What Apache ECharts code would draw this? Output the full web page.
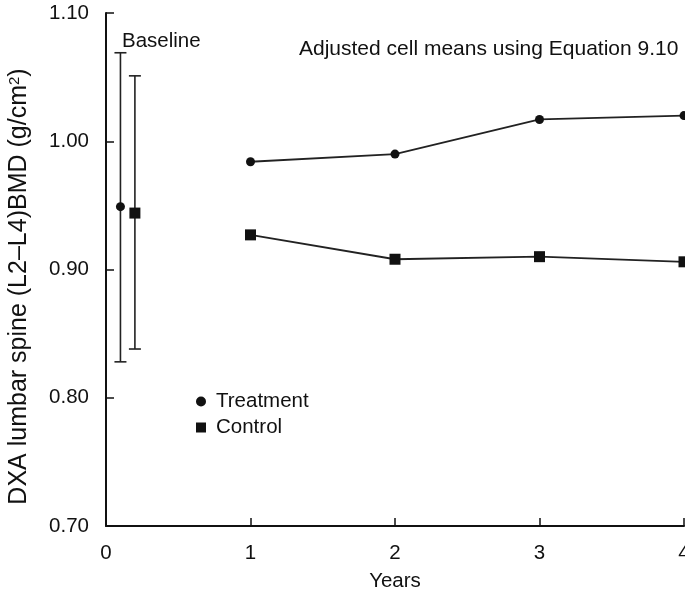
<!DOCTYPE html>
<html>
<head>
<meta charset="utf-8">
<script src="https://cdn.jsdelivr.net/npm/echarts@6/dist/echarts.min.js"></script>
<style>
  html, body { margin: 0; padding: 0; background: #fff; }
  #chart { width: 685px; height: 594px; }
</style>
</head>
<body>
<div id="chart"></div>
<script>
// Follow-up years and adjusted cell means
const years = [1, 2, 3, 4];
const treatmentMeans = [0.984, 0.990, 1.017, 1.020];
const controlMeans = [0.927, 0.908, 0.910, 0.906];

// Baseline means with their ranges (treatment, control)
const baselineX = [0.1, 0.2];
const baselineMean = [0.949, 0.944];
const baselineLow = [0.828, 0.838];
const baselineHigh = [1.069, 1.051];

const xTicks = [0, 1, 2, 3, 4];
const yTicks = [0.70, 0.80, 0.90, 1.00, 1.10];

const FONT = 'Liberation Sans, Arial, Helvetica, sans-serif';
const INK = '#111';
const FS = 20.5;

const chart = echarts.init(document.getElementById('chart'), null, { renderer: 'canvas' });

function pairs(xs, ys) { return xs.map((x, i) => [x, ys[i]]); }

const errorData = baselineX.map((x, i) => [x, baselineLow[i], baselineHigh[i]]);

const option = {
  animation: false,
  backgroundColor: '#fff',
  grid: { left: 106, right: 1, top: 13, bottom: 68, containLabel: false, outerBoundsMode: 'none' },
  xAxis: {
    type: 'value',
    min: xTicks[0], max: xTicks[xTicks.length - 1], interval: 1,
    name: 'Years', nameLocation: 'middle', nameGap: 45,
    nameTextStyle: { fontFamily: FONT, fontSize: FS, color: INK },
    axisLine: { show: true, lineStyle: { color: INK, width: 2 } },
    axisTick: { show: true, inside: true, length: 8, lineStyle: { color: INK, width: 1.5 } },
    axisLabel: { fontFamily: FONT, fontSize: FS, color: INK, margin: 17, showMaxLabel: true, hideOverlap: false },
    splitLine: { show: false }
  },
  yAxis: {
    type: 'value',
    min: yTicks[0], max: yTicks[yTicks.length - 1], interval: 0.1,
    name: '{t|DXA lumbar spine (L2–L4)BMD (g/cm}{s|2}{t|)}',
    nameLocation: 'middle', nameGap: 74, nameRotate: 90,
    nameTextStyle: {
      fontFamily: FONT, fontSize: 25, color: INK,
      padding: [0, 34, 0, 0],
      rich: {
        t: { fontFamily: FONT, fontSize: 25, color: INK },
        s: { fontFamily: FONT, fontSize: 15, color: INK, padding: [0, 0, 10, 0] }
      }
    },
    axisLine: { show: true, lineStyle: { color: INK, width: 2 } },
    axisTick: { show: true, inside: true, length: 8, lineStyle: { color: INK, width: 1.5 } },
    axisLabel: {
      fontFamily: FONT, fontSize: FS, color: INK, margin: 17,
      formatter: v => v.toFixed(2)
    },
    splitLine: { show: false }
  },
  legend: {
    orient: 'vertical', left: 196, top: 391, itemGap: 5,
    itemWidth: 10, itemHeight: 10, padding: 0,
    textStyle: { fontFamily: FONT, fontSize: FS, color: INK, padding: [0, 0, 0, 5] },
    data: [
      { name: 'Treatment', icon: 'circle', itemStyle: { color: INK, opacity: 1 } },
      { name: 'Control', icon: 'rect', itemStyle: { color: INK, opacity: 1 } }
    ]
  },
  graphic: [
    { type: 'text', left: 122, top: 31,
      style: { text: 'Baseline', font: FS + 'px ' + FONT, fill: INK } },
    { type: 'text', left: 299, top: 39,
      style: { text: 'Adjusted cell means using Equation 9.10', font: '21px ' + FONT, fill: INK } }
  ],
  series: [
    {
      name: 'BaselineRange', type: 'custom',
      data: errorData,
      z: 2,
      renderItem: function (params, api) {
        const x = api.value(0);
        const lo = api.coord([x, api.value(1)]);
        const hi = api.coord([x, api.value(2)]);
        const cap = 6;
        const style = { stroke: '#222', lineWidth: 1.6 };
        return {
          type: 'group',
          children: [
            { type: 'line', shape: { x1: lo[0], y1: lo[1], x2: hi[0], y2: hi[1] }, style },
            { type: 'line', shape: { x1: hi[0] - cap, y1: hi[1], x2: hi[0] + cap, y2: hi[1] }, style },
            { type: 'line', shape: { x1: lo[0] - cap, y1: lo[1], x2: lo[0] + cap, y2: lo[1] }, style }
          ]
        };
      }
    },
    {
      name: 'Treatment', type: 'line',
      data: pairs(years, treatmentMeans),
      symbol: 'circle', symbolSize: 9,
      lineStyle: { color: '#222', width: 1.8 },
      itemStyle: { color: INK, opacity: 1 },
      z: 3
    },
    {
      name: 'Control', type: 'line',
      data: pairs(years, controlMeans),
      symbol: 'rect', symbolSize: 11,
      lineStyle: { color: '#222', width: 1.8 },
      itemStyle: { color: INK, opacity: 1 },
      z: 3
    },
    {
      name: 'Treatment', type: 'scatter',
      data: [[baselineX[0], baselineMean[0]]],
      symbol: 'circle', symbolSize: 9,
      itemStyle: { color: INK, opacity: 1 }, z: 4
    },
    {
      name: 'Control', type: 'scatter',
      data: [[baselineX[1], baselineMean[1]]],
      symbol: 'rect', symbolSize: 11,
      itemStyle: { color: INK, opacity: 1 }, z: 4
    }
  ]
};

chart.setOption(option);
</script>
</body>
</html>
